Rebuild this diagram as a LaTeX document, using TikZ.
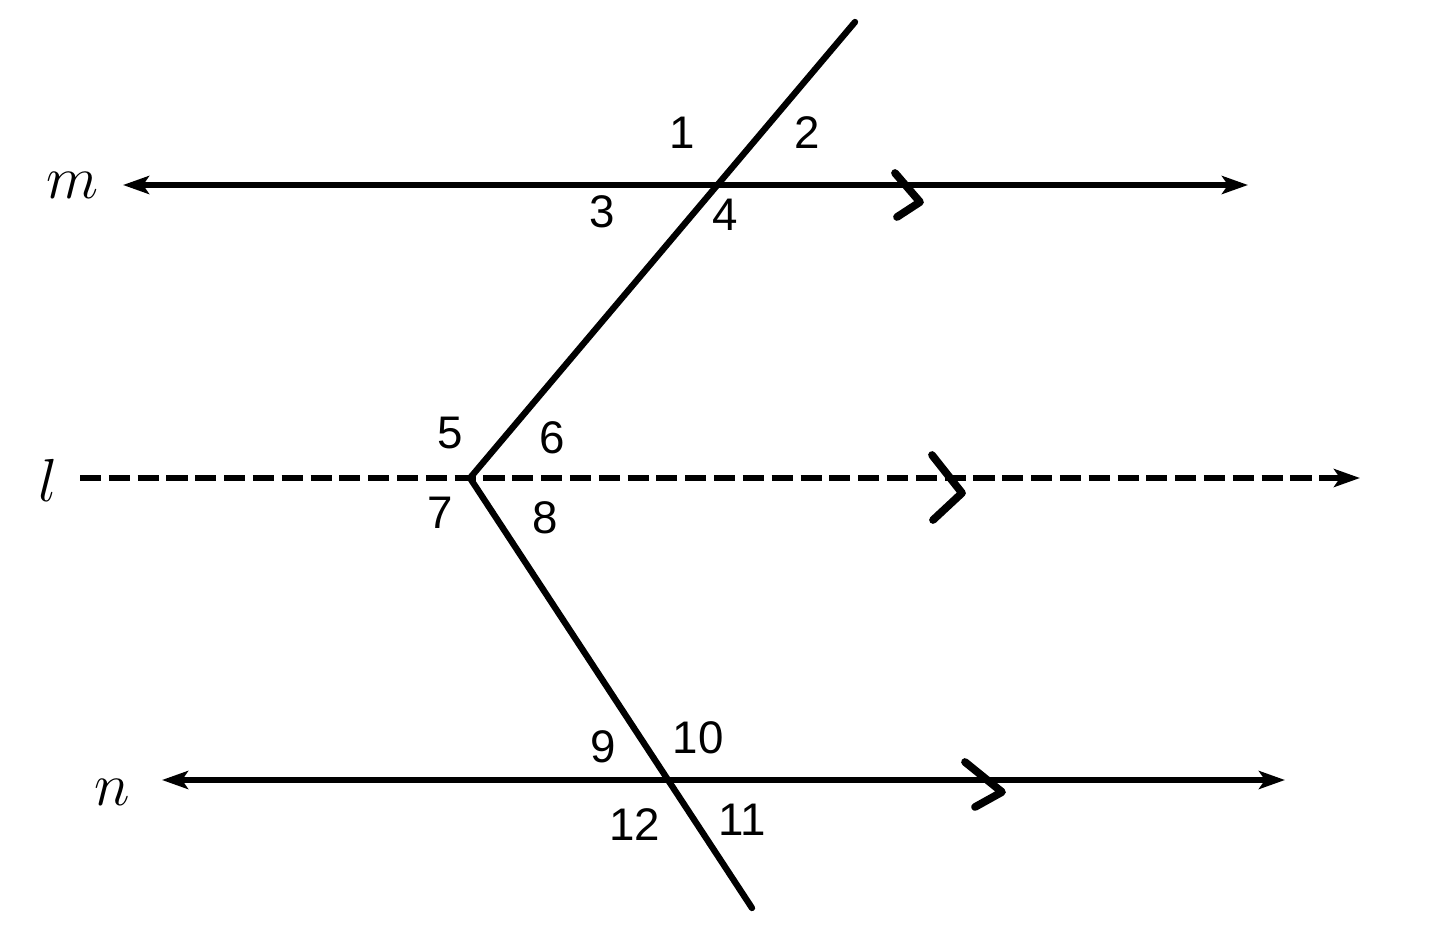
\documentclass[tikz,border=0pt]{standalone}
\usepackage{fontspec}
\setmainfont{Liberation Sans}
\usetikzlibrary{arrows.meta}

\begin{document}
\begin{tikzpicture}[
    parline/.style={line width=1.5pt, {Stealth[length=2.6mm,width=1.8mm,inset=0.6mm]}-{Stealth[length=2.6mm,width=1.8mm,inset=0.6mm]}},
    dashline/.style={line width=1.5pt, dash pattern=on 6pt off 2.2pt, -{Stealth[length=2.6mm,width=1.8mm,inset=0.6mm]}},
    transline/.style={line width=1.8pt, line cap=round, line join=miter},
    chevron/.style={line width=2.2pt, line cap=round, line join=round},
    anglab/.style={inner sep=0pt, font=\fontsize{13}{15}\selectfont},
    linelab/.style={inner sep=0pt, font=\fontsize{17}{20}\selectfont}
  ]
  \useasboundingbox (0cm,0cm) rectangle (14.4cm,9.37cm);
  \filldraw[fill=white, draw=none] (0cm,0cm) rectangle (14.4cm,9.37cm);

  % lines m, l, n
  \coordinate (mL) at (1.23cm,7.52cm);
  \coordinate (mR) at (12.48cm,7.52cm);
  \coordinate (lL) at (0.80cm,4.59cm);
  \coordinate (lR) at (13.60cm,4.59cm);
  \coordinate (nL) at (1.62cm,1.57cm);
  \coordinate (nR) at (12.85cm,1.57cm);
  \draw[parline] (mL) -- (mR);
  \draw[dashline] (lL) -- (lR);
  \draw[parline] (nL) -- (nR);

  % transversal
  \coordinate (top) at (8.55cm,9.15cm);
  \coordinate (vertex) at (4.70cm,4.59cm);
  \coordinate (bottom) at (7.52cm,0.29cm);
  \draw[transline] (top) -- (vertex) -- (bottom);

  % parallel marks
  \draw[chevron] (8.95cm,7.64cm) -- (9.20cm,7.35cm) -- (8.97cm,7.20cm);
  \draw[chevron] (9.32cm,4.82cm) -- (9.62cm,4.44cm) -- (9.33cm,4.17cm);
  \draw[chevron] (9.65cm,1.75cm) -- (10.02cm,1.45cm) -- (9.75cm,1.30cm);

  % line names
  \node[linelab] (labm) at (0.73cm,7.52cm) {$m$};
  \node[linelab] (labl) at (0.48cm,4.57cm) {$l$};
  \node[linelab] (labn) at (1.12cm,1.45cm) {$n$};

  % angle numbers
  \node[anglab] (a1) at (6.82cm,8.04cm) {1};
  \node[anglab] (a2) at (8.07cm,8.04cm) {2};
  \node[anglab] (a3) at (6.02cm,7.25cm) {3};
  \node[anglab] (a4) at (7.25cm,7.22cm) {4};
  \node[anglab] (a5) at (4.50cm,5.04cm) {5};
  \node[anglab] (a6) at (5.52cm,4.99cm) {6};
  \node[anglab] (a7) at (4.40cm,4.24cm) {7};
  \node[anglab] (a8) at (5.45cm,4.19cm) {8};
  \node[anglab] (a9) at (6.03cm,1.90cm) {9};
  \node[anglab] (a10) at (6.98cm,1.99cm) {10};
  \node[anglab] (a11) at (7.42cm,1.17cm) {11};
  \node[anglab] (a12) at (6.35cm,1.12cm) {12};
\end{tikzpicture}
\end{document}
